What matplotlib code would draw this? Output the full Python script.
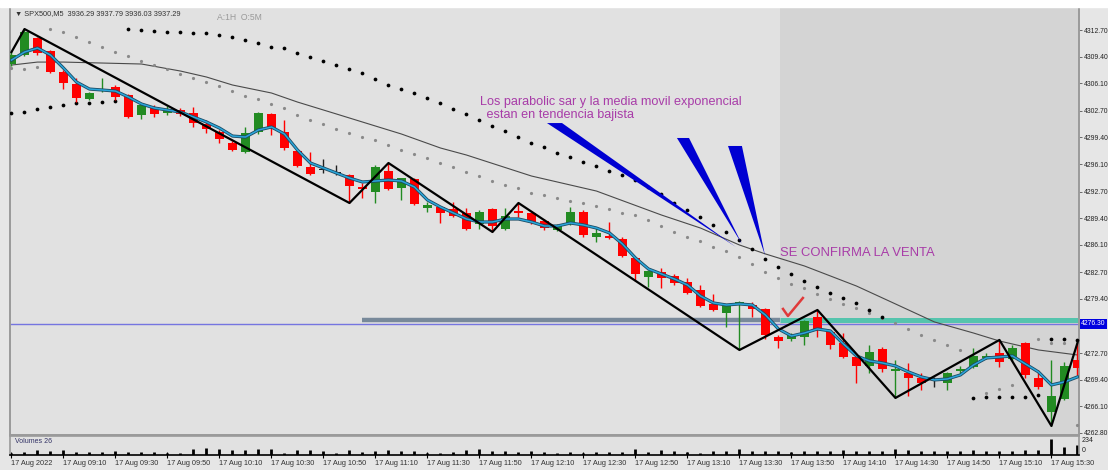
import numpy as np
import matplotlib
matplotlib.use("Agg")
import matplotlib.pyplot as plt
import matplotlib.patheffects as pe
from matplotlib.patches import Polygon, Rectangle

plt.rcParams['font.family'] = ['Liberation Sans', 'DejaVu Sans']

# SPX500 M5 candles, 17 Aug 2022
opens = [4308.49, 4309.60, 4311.71, 4310.10, 4307.50, 4306.01, 4304.15, 4305.14, 4305.64, 4304.65,
         4302.17, 4303.16, 4302.42, 4302.79, 4302.42, 4301.06, 4300.07, 4298.71, 4297.59, 4300.07,
         4302.30, 4300.07, 4297.72, 4295.74, 4295.36, 4294.99, 4294.75, 4293.26, 4292.64, 4295.24,
         4293.14, 4294.25, 4290.66, 4290.78, 4290.54, 4290.04, 4288.68, 4290.54, 4288.06, 4290.29,
         4290.04, 4289.05, 4287.94, 4288.68, 4290.16, 4287.07, 4287.19, 4286.82, 4284.47, 4282.12,
         4282.74, 4282.24, 4281.50, 4280.51, 4278.78, 4277.66, 4278.65, 4278.65, 4278.16, 4274.69,
         4274.44, 4274.69, 4277.17, 4275.31, 4273.95, 4272.21, 4271.10, 4273.20, 4270.48, 4270.23,
         4269.61, 4269.37, 4268.99, 4270.48, 4270.98, 4272.09, 4272.71, 4271.97, 4273.95, 4269.61,
         4265.40, 4267.01, 4271.84]
highs = [4309.97, 4312.82, 4311.83, 4310.22, 4307.74, 4306.75, 4305.02, 4306.75, 4305.89, 4304.77,
         4303.54, 4303.41, 4303.29, 4303.04, 4303.16, 4301.55, 4300.32, 4298.95, 4300.69, 4302.54,
         4302.42, 4301.55, 4297.84, 4297.59, 4296.73, 4295.98, 4294.87, 4293.75, 4295.98, 4296.23,
         4294.37, 4294.37, 4291.40, 4290.91, 4291.40, 4290.66, 4290.41, 4290.66, 4290.66, 4291.28,
         4290.16, 4289.30, 4288.68, 4290.78, 4290.41, 4288.31, 4288.93, 4287.07, 4284.59, 4282.98,
         4283.23, 4282.49, 4281.99, 4281.13, 4280.01, 4278.78, 4279.15, 4279.02, 4278.28, 4274.94,
         4275.18, 4276.79, 4278.03, 4275.43, 4275.18, 4272.46, 4273.70, 4273.45, 4271.84, 4271.47,
         4270.23, 4269.74, 4270.36, 4271.10, 4273.33, 4272.71, 4274.32, 4273.70, 4274.07, 4270.60,
         4271.84, 4271.59, 4273.95]
lows = [4308.24, 4309.48, 4309.60, 4307.37, 4305.39, 4303.78, 4304.03, 4305.02, 4304.03, 4301.80,
        4301.68, 4301.93, 4302.17, 4302.05, 4300.69, 4299.94, 4298.71, 4297.72, 4297.47, 4299.82,
        4299.70, 4297.84, 4295.74, 4294.75, 4294.99, 4294.75, 4291.28, 4291.90, 4291.28, 4292.89,
        4291.65, 4291.03, 4290.16, 4288.80, 4289.55, 4287.94, 4288.06, 4287.69, 4287.94, 4289.55,
        4288.68, 4287.94, 4287.81, 4288.56, 4287.07, 4286.45, 4286.82, 4284.59, 4281.62, 4280.88,
        4280.76, 4281.13, 4280.01, 4278.40, 4277.91, 4275.93, 4273.08, 4277.17, 4274.44, 4273.33,
        4274.19, 4273.70, 4274.69, 4273.20, 4272.09, 4268.99, 4270.23, 4270.36, 4267.14, 4267.39,
        4268.13, 4268.50, 4268.13, 4270.11, 4270.85, 4271.97, 4270.98, 4271.72, 4269.61, 4268.25,
        4263.67, 4266.90, 4269.99]
closes = [4309.60, 4312.45, 4309.85, 4307.50, 4306.13, 4304.28, 4304.90, 4305.39, 4304.40, 4301.93,
          4303.41, 4302.30, 4302.79, 4302.30, 4301.18, 4300.44, 4299.20, 4297.84, 4299.94, 4302.42,
          4300.56, 4298.09, 4295.86, 4294.87, 4295.36, 4294.99, 4293.38, 4293.01, 4295.74, 4293.01,
          4294.37, 4291.15, 4291.03, 4290.04, 4289.67, 4288.06, 4290.16, 4288.43, 4289.67, 4290.04,
          4288.93, 4288.18, 4288.56, 4290.16, 4287.32, 4287.57, 4286.95, 4284.72, 4282.49, 4282.86,
          4281.99, 4281.37, 4280.14, 4278.53, 4278.03, 4278.53, 4279.02, 4278.16, 4274.94, 4274.19,
          4274.94, 4276.67, 4275.68, 4273.70, 4272.21, 4271.10, 4272.83, 4270.73, 4270.73, 4269.61,
          4268.99, 4269.37, 4270.23, 4270.73, 4272.34, 4272.34, 4271.59, 4273.33, 4269.99, 4268.50,
          4267.39, 4271.10, 4270.85]
volumes = [26, 39, 65, 52, 65, 39, 39, 39, 52, 39, 39, 39, 26, 26, 78, 91, 78, 65, 65, 78,
           78, 26, 65, 65, 52, 26, 65, 39, 52, 65, 52, 52, 26, 26, 39, 65, 78, 52, 52, 39,
           52, 39, 26, 39, 26, 39, 39, 39, 78, 39, 65, 52, 39, 26, 52, 52, 78, 52, 52, 52,
           39, 52, 52, 52, 65, 52, 52, 52, 78, 65, 52, 52, 52, 52, 65, 52, 52, 52, 65, 65,
           208, 104, 130]

# exponential moving average (blue)
ema = [4308.98, 4309.97, 4310.47, 4309.60, 4307.99, 4306.26, 4305.39, 4305.27, 4305.14, 4304.40,
       4303.54, 4303.04, 4302.79, 4302.54, 4301.93, 4301.31, 4300.56, 4299.57, 4299.45, 4300.32,
       4300.69, 4299.82, 4297.84, 4296.23, 4295.61, 4294.99, 4294.37, 4293.88, 4294.00, 4294.13,
       4294.00, 4293.26, 4291.65, 4290.78, 4290.04, 4289.30, 4288.93, 4288.93, 4289.30, 4289.30,
       4288.93, 4288.43, 4288.43, 4288.80, 4288.56, 4288.18, 4287.57, 4286.20, 4284.47, 4283.11,
       4282.49, 4281.87, 4281.13, 4279.77, 4278.90, 4278.65, 4278.78, 4278.65, 4277.41, 4275.68,
       4274.81, 4275.18, 4275.68, 4275.43, 4273.82, 4272.34, 4271.72, 4271.47, 4271.10, 4270.36,
       4269.74, 4269.37, 4269.49, 4269.99, 4271.22, 4272.09, 4272.21, 4272.34, 4271.35, 4270.36,
       4268.75, 4269.12, 4269.74]

# slow moving average (thin grey)
sma_idx = [0, 2, 4, 7, 10, 13, 15, 17, 20, 22, 25, 28, 30, 33, 35, 40, 45, 50, 53, 56,
           58, 61, 65, 68, 71, 74, 76, 79, 82]
sma_val = [4308.36, 4308.73, 4308.73, 4308.61, 4308.49, 4307.62, 4306.88, 4305.89, 4304.90, 4303.78,
           4302.30, 4300.81, 4299.82, 4298.09, 4297.22, 4294.62, 4292.76, 4289.79, 4288.18, 4286.08,
           4284.97, 4283.48, 4281.00, 4278.78, 4276.55, 4275.18, 4274.19, 4273.08, 4272.46]

nan = float('nan')
# parabolic SAR, black dots
sar_black = [4302.42, 4302.54, 4302.92, 4303.16, 4303.41, 4303.66, 4303.66, 4303.78, 4303.91,
             4312.82, 4312.70, 4312.58, 4312.45, 4312.45, 4312.33, 4312.33, 4312.08, 4311.83, 4311.46,
             4311.09, 4310.59, 4310.47, 4309.85, 4309.35, 4308.86, 4308.36, 4307.87, 4307.37,
             4306.63, 4305.89, 4305.39, 4304.90, 4304.28, 4303.66, 4302.92, 4302.30, 4301.55, 4300.81,
             4300.19, 4299.45, 4298.71, 4298.21, 4297.47, 4296.97, 4296.35, 4295.86, 4295.24, 4294.75,
             4294.13, 4293.26, 4292.39, 4291.28, 4290.41, 4289.55, 4288.56, 4287.69,
             4286.70, 4285.58, 4284.35, 4283.36, 4282.49, 4281.62, 4280.88, 4280.14, 4279.52, 4278.90,
             4278.03, 4277.17,
             nan, nan, nan, nan, nan, nan,
             4267.14, 4267.26, 4267.26, 4267.26, 4267.26, 4267.51,
             4274.44, 4274.44, 4274.32]
# parabolic SAR, grey dots
sar_grey = [4307.99, 4307.87, 4308.12,
            4312.82, 4312.45, 4311.83, 4311.21, 4310.59, 4309.97, 4309.48, 4308.86, 4308.36, 4307.87,
            4307.25, 4306.75, 4306.26, 4305.76, 4305.14, 4304.53, 4304.15, 4303.54, 4303.04, 4302.17,
            4301.55, 4301.06, 4300.44, 4299.94, 4299.45,
            4299.08, 4298.46, 4297.84, 4297.35, 4296.85, 4296.23, 4295.74, 4295.12, 4294.62, 4294.00,
            4293.51, 4293.14, 4292.52, 4292.27, 4291.90, 4291.53, 4291.28, 4290.91, 4290.54, 4290.04,
            4289.79, 4289.17, 4288.43, 4287.69, 4287.07, 4286.57, 4285.83, 4285.34, 4284.59,
            4283.73, 4282.74, 4281.99, 4281.25, 4280.76, 4280.01, 4279.39, 4278.78, 4278.28,
            4277.66, 4277.04, 4276.42, 4275.68, 4274.94, 4274.32, 4273.70, 4273.08,
            nan, 4267.76, 4268.25, 4268.75, nan, 4274.44, 4273.95, 4273.95, 4263.80]

# zigzag swing points
zz_idx = [0, 1, 26, 29, 37, 39, 56, 62, 68, 76, 80, 82]
zz_val = [4309.97, 4312.82, 4291.28, 4296.23, 4287.69, 4291.28, 4273.08, 4278.03, 4267.14, 4274.32,
          4263.67, 4273.95]

price_now = 4276.30
ytick_vals = [4312.70, 4309.40, 4306.10, 4302.70, 4299.40, 4296.10, 4292.70, 4289.40, 4286.10,
              4282.70, 4279.40, 4272.70, 4269.40, 4266.10, 4262.80]
xlabels = ['17 Aug 2022', '17 Aug 09:10', '17 Aug 09:30', '17 Aug 09:50', '17 Aug 10:10',
           '17 Aug 10:30', '17 Aug 10:50', '17 Aug 11:10', '17 Aug 11:30', '17 Aug 11:50',
           '17 Aug 12:10', '17 Aug 12:30', '17 Aug 12:50', '17 Aug 13:10', '17 Aug 13:30',
           '17 Aug 13:50', '17 Aug 14:10', '17 Aug 14:30', '17 Aug 14:50', '17 Aug 15:10',
           '17 Aug 15:30']

n = len(opens)
x = np.arange(n)
o = np.array(opens)
c = np.array(closes)

W, H = 1108, 470
fig = plt.figure(figsize=(W / 100, H / 100), dpi=100, facecolor='#e6e6e6')
fig.patches.append(Rectangle((0, 463 / H), 1, 7 / H, transform=fig.transFigure,
                             color='white', zorder=0))

ax = fig.add_axes([10 / W, 35 / H, 1069 / W, 428 / H])
ax.set_facecolor('#e1e1e1')
ax.set_xlim(-0.115, 82.12)
ax.set_ylim(4262.55, 4315.55)
ax.axvspan(59.1, 83, color='#d4d4d4', lw=0, zorder=0)

# levels
ax.axhline(price_now, color='#7575e0', lw=1, zorder=2)
ax.plot([26.96, 59.1], [4276.8, 4276.8], color='#78899a', lw=3.2, solid_capstyle='butt', zorder=2)
ax.plot([59.1, 83], [4276.8, 4276.8], color='#55c4ad', lw=3.6, solid_capstyle='butt', zorder=2)

# indicators
ax.plot(sma_idx, sma_val, color='#4a4a4a', lw=0.8, zorder=2)
ax.plot(x, sar_grey, 'o', ms=2.3, color='#8a8a8a', mec='none', zorder=3)
ax.plot(x, sar_black, 'o', ms=2.7, color='black', mec='none', zorder=3)

# candles
col = ['#228b22' if cc > oo else '#ff0000' if cc < oo else '#202020' for oo, cc in zip(o, c)]
ax.vlines(x, lows, highs, colors=col, lw=1, zorder=4)
ax.bar(x, np.maximum(np.abs(c - o), 0.12), bottom=np.minimum(o, c), width=0.68,
       color=col, lw=0, zorder=4)

ax.plot(x, ema, color='#2aa6da', lw=1.1, zorder=5,
        path_effects=[pe.Stroke(linewidth=2.3, foreground='#1c4b64'), pe.Normal()])
ax.plot(zz_idx, zz_val, color='black', lw=1.6, zorder=6)

# hand drawn annotations
for pts in ([(41.19, 4301.18), (42.35, 4301.18), (55.73, 4285.83)],
            [(51.19, 4299.33), (52.12, 4299.33), (56.19, 4286.20)],
            [(55.12, 4298.34), (56.19, 4298.34), (57.96, 4284.84)]):
    ax.add_patch(Polygon(pts, closed=True, color='#0000d2', lw=0, zorder=7))
ax.plot([59.35, 59.73, 60.88], [4278.16, 4277.29, 4279.52], color='#e03a3a', lw=1.8, zorder=7)

ax.text(36.04, 4303.8, 'Los parabolic sar y la media movil exponencial', color='#a83ca8',
        fontsize=9.1, va='center', zorder=8)
ax.text(36.3, 4302.2, ' estan en tendencia bajista', color='#a83ca8',
        fontsize=9.1, va='center', zorder=8)
ax.text(59.1, 4285.1, 'SE CONFIRMA LA VENTA', color='#a83ca8', fontsize=9.4, va='center', zorder=8)

# axes styling
ax.set_xticks([])
ax.yaxis.tick_right()
ax.set_yticks(ytick_vals)
ax.set_yticklabels(['%.2f' % v for v in ytick_vals])
ax.tick_params(axis='y', length=2.5, width=0.6, pad=1, labelsize=4.9, color='#555555',
               labelcolor='#222222')
for s in ax.spines.values():
    s.set_color('#9a9a9a')
    s.set_linewidth(1.4)
ax.text(1.002, price_now, '%.2f' % price_now, transform=ax.get_yaxis_transform(),
        color='white', fontsize=4.9, va='center', ha='left',
        bbox=dict(boxstyle='square,pad=0.2', fc='#0000e0', ec='none'), clip_on=False)

fig.text(15 / W, 1 - 14 / H, '\u25bc SPX500,M5  3936.29 3937.79 3936.03 3937.29',
         fontsize=5.3, color='#333333', va='center')
fig.text(217 / W, 1 - 17 / H, 'A:1H  O:5M', fontsize=6.2, color='#9a9a9a', va='center')

# volume panel
vax = fig.add_axes([10 / W, 15 / H, 1069 / W, 19 / H])
vax.set_facecolor('#e1e1e1')
vax.set_xlim(ax.get_xlim())
vax.set_ylim(0, 240)
vax.vlines(x, 0, volumes, color='black', lw=2)
vax.set_yticks([])
vax.set_xticks(x[::4])
vax.set_xticklabels(xlabels, fontsize=5.3, ha='left', color='#333333')
vax.tick_params(axis='x', length=4, width=0.8, pad=1.5, direction='inout')
for s in vax.spines.values():
    s.set_color('#9a9a9a')
    s.set_linewidth(1.2)
vax.spines['bottom'].set_color('black')
vax.text(0.005, 0.7, 'Volumes 26', transform=vax.transAxes, fontsize=5, color='#333366', va='center')
fig.text(1082 / W, 1 - 440 / H, '234', fontsize=5, color='#222222', va='center')
fig.text(1082 / W, 1 - 451 / H, '0', fontsize=5, color='#222222', va='center')

fig.savefig('out.png', dpi=100, facecolor=fig.get_facecolor())
